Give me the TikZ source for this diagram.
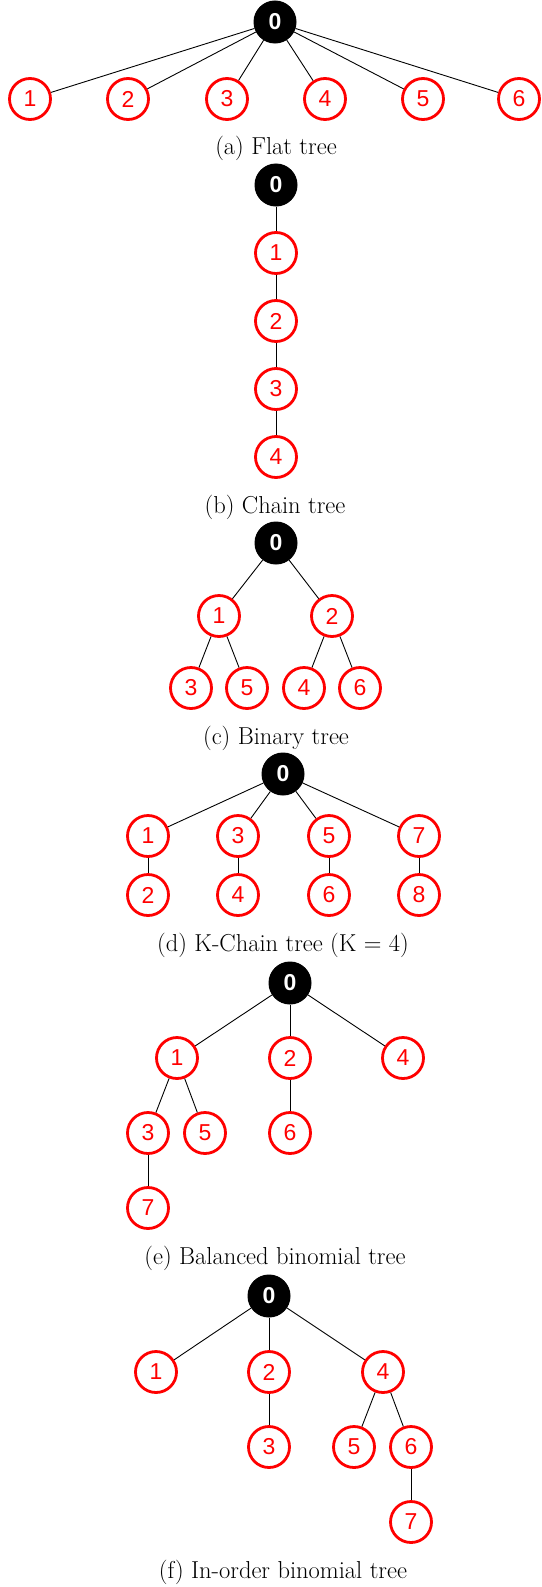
\documentclass[tikz,border=0pt]{standalone}
\usepackage{fontspec}
\newfontfamily\numfont{Liberation Sans}
\begin{document}
\begin{tikzpicture}[x=1pt,y=-1pt,
  rootnode/.style={circle,fill=black,draw=black,line width=1pt,minimum size=42pt,inner sep=0pt,text=white,font=\numfont\bfseries\fontsize{23}{23}\selectfont},
  kid/.style={circle,draw=red,line width=2.8pt,fill=white,minimum size=41pt,inner sep=0pt,text=red,font=\numfont\fontsize{23}{23}\selectfont},
  captext/.style={font=\fontsize{24.5}{28}\selectfont,inner sep=0pt},
  link/.style={draw=black,line width=0.9pt}]
\useasboundingbox (0,0) rectangle (541,1587);
% (a)
\node[rootnode] (a0) at (275,22) {0};
\node[kid] (a1) at (30,99) {1};
\node[kid] (a2) at (128,99) {2};
\node[kid] (a3) at (227,99) {3};
\node[kid] (a4) at (325,99) {4};
\node[kid] (a5) at (423,99) {5};
\node[kid] (a6) at (519,99) {6};
\foreach \i in {1,...,6} \draw[link] (a0) -- (a\i);
\node[captext] (capa) at (276,148) {(a) Flat tree};
% (b)
\node[rootnode] (b0) at (276,185) {0};
\node[kid] (b1) at (276,253) {1};
\node[kid] (b2) at (276,321) {2};
\node[kid] (b3) at (276,389) {3};
\node[kid] (b4) at (276,457) {4};
\draw[link] (b0) -- (b1); \draw[link] (b1) -- (b2); \draw[link] (b2) -- (b3); \draw[link] (b3) -- (b4);
\node[captext] (capb) at (275,507) {(b) Chain tree};
% (c)
\node[rootnode] (c0) at (276,543) {0};
\node[kid] (c1) at (219,616) {1};
\node[kid] (c2) at (332,616) {2};
\node[kid] (c3) at (191,688) {3};
\node[kid] (c5) at (247,688) {5};
\node[kid] (c4) at (304,688) {4};
\node[kid] (c6) at (360,688) {6};
\draw[link] (c0) -- (c1); \draw[link] (c0) -- (c2);
\draw[link] (c1) -- (c3); \draw[link] (c1) -- (c5);
\draw[link] (c2) -- (c4); \draw[link] (c2) -- (c6);
\node[captext] (capc) at (276,738) {(c) Binary tree};
% (d)
\node[rootnode] (d0) at (283,774) {0};
\node[kid] (d1) at (148,836) {1};
\node[kid] (d3) at (238,836) {3};
\node[kid] (d5) at (329,836) {5};
\node[kid] (d7) at (419,836) {7};
\node[kid] (d2) at (148,895) {2};
\node[kid] (d4) at (238,895) {4};
\node[kid] (d6) at (329,895) {6};
\node[kid] (d8) at (419,895) {8};
\draw[link] (d0) -- (d1); \draw[link] (d0) -- (d3); \draw[link] (d0) -- (d5); \draw[link] (d0) -- (d7);
\draw[link] (d1) -- (d2); \draw[link] (d3) -- (d4); \draw[link] (d5) -- (d6); \draw[link] (d7) -- (d8);
\node[captext] (capd) at (283,945) {(d) K-Chain tree (K = 4)};
% (e)
\node[rootnode] (e0) at (290,983) {0};
\node[kid] (e1) at (177,1058) {1};
\node[kid] (e2) at (290,1058) {2};
\node[kid] (e4) at (403,1058) {4};
\node[kid] (e3) at (148,1133) {3};
\node[kid] (e5) at (205,1133) {5};
\node[kid] (e6) at (290,1133) {6};
\node[kid] (e7) at (148,1208) {7};
\draw[link] (e0) -- (e1); \draw[link] (e0) -- (e2); \draw[link] (e0) -- (e4);
\draw[link] (e1) -- (e3); \draw[link] (e1) -- (e5); \draw[link] (e2) -- (e6); \draw[link] (e3) -- (e7);
\node[captext] (cape) at (275,1258) {(e) Balanced binomial tree};
% (f)
\node[rootnode] (f0) at (269,1296) {0};
\node[kid] (f1) at (156,1372) {1};
\node[kid] (f2) at (269,1372) {2};
\node[kid] (f4) at (383,1372) {4};
\node[kid] (f3) at (269,1447) {3};
\node[kid] (f5) at (354,1447) {5};
\node[kid] (f6) at (411,1447) {6};
\node[kid] (f7) at (411,1522) {7};
\draw[link] (f0) -- (f1); \draw[link] (f0) -- (f2); \draw[link] (f0) -- (f4);
\draw[link] (f2) -- (f3); \draw[link] (f4) -- (f5); \draw[link] (f4) -- (f6); \draw[link] (f6) -- (f7);
\node[captext] (capf) at (283,1572) {(f) In-order binomial tree};
\end{tikzpicture}
\end{document}
